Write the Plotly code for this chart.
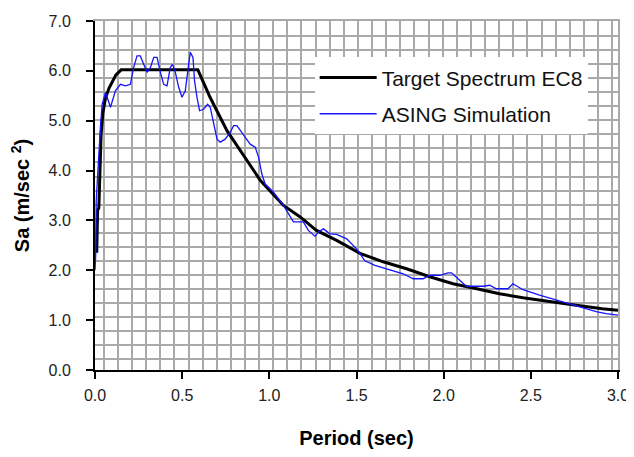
import plotly.graph_objects as go

# Target Spectrum EC8
target_T = [0.01, 0.015, 0.022, 0.028, 0.035, 0.045, 0.06, 0.08, 0.10, 0.12, 0.15,
            0.30, 0.45, 0.59, 0.66, 0.757, 0.949, 1.081, 1.177, 1.27, 1.386, 1.52,
            1.653, 1.787, 1.92, 2.054, 2.19, 2.32, 2.455, 2.607, 2.76, 2.91, 3.0]
target_Sa = [2.35, 3.2, 3.25, 4.2, 4.73, 5.15, 5.45, 5.65, 5.8, 5.92, 6.02,
             6.02, 6.02, 6.02, 5.47, 4.8, 3.8, 3.3, 3.07, 2.8, 2.6, 2.34,
             2.17, 2.03, 1.87, 1.73, 1.63, 1.53, 1.45, 1.37, 1.3, 1.23, 1.2]

# ASING Simulation
sim_T = [0.0, 0.004, 0.007, 0.022, 0.031, 0.041, 0.06, 0.089, 0.117, 0.146, 0.175,
         0.203, 0.222, 0.241, 0.26, 0.28, 0.299, 0.318, 0.337, 0.356, 0.365, 0.375,
         0.394, 0.413, 0.432, 0.445, 0.461, 0.48, 0.499, 0.518, 0.537, 0.547, 0.562,
         0.571, 0.585, 0.6, 0.623, 0.646, 0.661, 0.68, 0.7, 0.718, 0.747, 0.776,
         0.795, 0.814, 0.833, 0.861, 0.89, 0.919, 0.938, 0.957, 0.976, 1.023, 1.081,
         1.138, 1.195, 1.224, 1.262, 1.281, 1.31, 1.348, 1.386, 1.444, 1.5, 1.548,
         1.606, 1.69, 1.768, 1.825, 1.882, 1.92, 1.978, 2.025, 2.045, 2.092, 2.13,
         2.226, 2.264, 2.302, 2.369, 2.397, 2.455, 2.55, 2.646, 2.74, 2.875, 2.932, 3.0]
sim_Sa = [2.0, 2.3, 3.4, 4.4, 4.87, 5.33, 5.57, 5.27, 5.6, 5.73, 5.7,
          5.73, 6.07, 6.3, 6.3, 6.13, 5.97, 6.07, 6.27, 6.27, 6.1, 5.97,
          5.73, 5.7, 6.07, 6.13, 5.97, 5.67, 5.47, 5.6, 6.13, 6.37, 6.27,
          5.8, 5.47, 5.2, 5.23, 5.33, 5.27, 4.93, 4.63, 4.57, 4.63, 4.77,
          4.9, 4.9, 4.8, 4.67, 4.53, 4.47, 4.27, 3.93, 3.73, 3.57, 3.3,
          2.97, 2.97, 2.8, 2.68, 2.77, 2.83, 2.73, 2.72, 2.63, 2.43, 2.19,
          2.1, 2.01, 1.93, 1.83, 1.83, 1.9, 1.9, 1.95, 1.95, 1.8, 1.68,
          1.68, 1.7, 1.63, 1.63, 1.73, 1.61, 1.5, 1.4, 1.3, 1.17, 1.13, 1.1]

x_ticks = [0.0, 0.5, 1.0, 1.5, 2.0, 2.5, 3.0]
y_ticks = [0.0, 1.0, 2.0, 3.0, 4.0, 5.0, 6.0, 7.0]

FONT = "Liberation Sans"
GRID = "#a9a9a9"

fig = go.Figure()
fig.add_trace(go.Scatter(x=target_T, y=target_Sa, mode="lines", name="Target Spectrum EC8",
                         line=dict(color="black", width=3), legendgroup="a"))
fig.add_trace(go.Scatter(x=sim_T, y=sim_Sa, mode="lines", name="ASING Simulation",
                         line=dict(color="#1414ff", width=1.3), legendgroup="b"))
# empty trace to hold the graph-paper grid axes
fig.add_trace(go.Scatter(x=[None], y=[None], xaxis="x2", yaxis="y2", showlegend=False,
                         hoverinfo="skip"))

fig.update_layout(
    width=634, height=457,
    margin=dict(l=87, r=24, t=13, b=95, autoexpand=False),
    paper_bgcolor="white", plot_bgcolor="white",
    font=dict(family=FONT, size=16, color="#222"),
    xaxis=dict(range=[0, 3], tickvals=x_ticks, tickformat=".1f", showgrid=False, zeroline=False,
               showline=True, linecolor="black", linewidth=2, ticks="outside", ticklen=7,
               tickwidth=2, tickcolor="black", ticklabelstandoff=3, automargin=False,
               title=dict(text="<b>Period (sec)</b>", font=dict(size=20, color="black"), standoff=28)),
    yaxis=dict(range=[0, 7], tickvals=y_ticks, tickformat=".1f", showgrid=False, zeroline=False,
               showline=True, linecolor="black", linewidth=2, ticks="outside", ticklen=7,
               tickwidth=2, tickcolor="black", ticklabelstandoff=12, automargin=False,
               title=dict(text="<b>Sa (m/sec <sup>2</sup>)</b>", font=dict(size=20, color="black"), standoff=14)),
    xaxis2=dict(range=[0, 3], overlaying="x", anchor="y2", side="top", tickmode="linear",
                tick0=0.0504, dtick=0.081, showgrid=True, gridcolor=GRID, gridwidth=1.6,
                showticklabels=False, ticks="", zeroline=False, showline=True,
                linecolor=GRID, linewidth=1.6, automargin=False),
    yaxis2=dict(range=[0, 7], overlaying="y", anchor="x2", side="right", tickmode="linear",
                tick0=0.214, dtick=0.282, showgrid=True, gridcolor=GRID, gridwidth=1.6,
                showticklabels=False, ticks="", zeroline=False, showline=True,
                linecolor=GRID, linewidth=1.6, automargin=False),
    legend=dict(x=0.42, y=0.896, xanchor="left", yanchor="top", bgcolor="white",
                borderwidth=0, font=dict(size=21, color="#111"), itemwidth=57,
                traceorder="grouped", tracegroupgap=6),
    showlegend=True,
)

fig.write_html("out.html")
